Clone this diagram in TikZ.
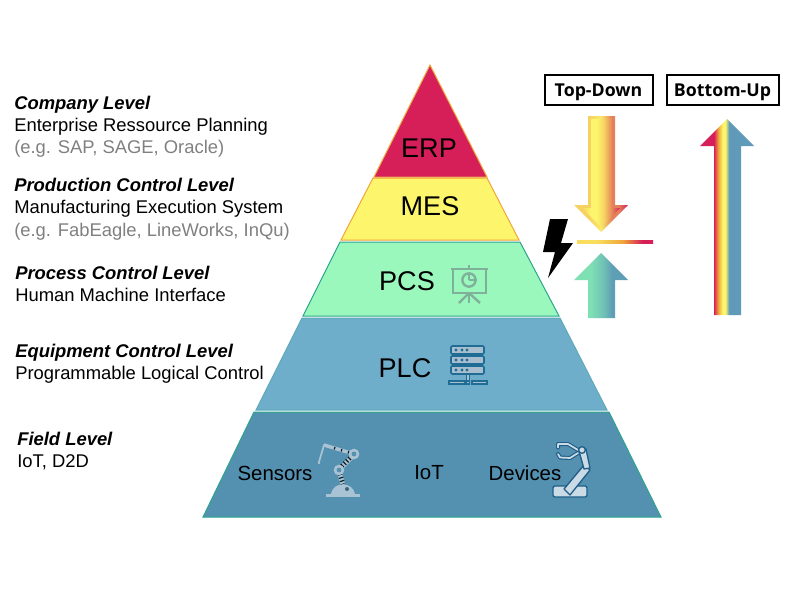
\documentclass[tikz,border=0pt]{standalone}
\usepackage{fontspec}
\setmainfont{Liberation Sans}
\newfontfamily\boxfont{Open Sans}
\definecolor{cErp}{HTML}{D61F58}
\definecolor{cMes}{HTML}{FDF66C}
\definecolor{cPcs}{HTML}{9BF8BD}
\definecolor{cPlc}{HTML}{6FAECB}
\definecolor{cFld}{HTML}{5490B0}
\definecolor{cGry}{HTML}{808080}
\definecolor{cOrg}{HTML}{EFA63A}
\definecolor{cTeal}{HTML}{2BA58C}
\definecolor{cIconA}{HTML}{7FB09A}
\definecolor{cIconB}{HTML}{1F6C94}
\definecolor{cIconC}{HTML}{A9BFD0}
\definecolor{cRobA}{HTML}{A9C3D4}
\definecolor{cRobB}{HTML}{CBDBE6}
\definecolor{cRobD}{HTML}{1F5F88}
\definecolor{cTdA}{HTML}{F6D262}
\definecolor{cTdB}{HTML}{E5805A}
\definecolor{cBuA}{HTML}{7FE0B4}
\definecolor{cBuB}{HTML}{5F9FB5}
\definecolor{cBig}{HTML}{5F9AB8}
% the bounding box of a shaded path covers 25bp to 75bp of the shading
\pgfdeclarehorizontalshading{tdShade}{100bp}{
 color(0bp)=(cTdA); color(39bp)=(cTdA); color(50bp)=(cMes!60!cTdA); color(60bp)=(cTdB); color(66bp)=(cTdB); color(75bp)=(cErp); color(100bp)=(cErp)}
\pgfdeclarehorizontalshading{tdShaft}{100bp}{
 color(0bp)=(cTdA); color(25bp)=(cTdA); color(37bp)=(cMes); color(44bp)=(cMes); color(54bp)=(cTdA); color(65bp)=(cTdB); color(75bp)=(cErp); color(100bp)=(cErp)}
\pgfdeclarehorizontalshading{lineShade}{100bp}{
 color(0bp)=(cMes!70!cOrg); color(38bp)=(cMes!70!cOrg); color(55bp)=(cOrg); color(68bp)=(cErp); color(100bp)=(cErp)}
\pgfdeclarehorizontalshading{buShade}{100bp}{
 color(0bp)=(cBuA); color(40bp)=(cBuA); color(52bp)=(cBuA!55!cBuB); color(60bp)=(cBuB); color(100bp)=(cBuB)}
\pgfdeclarehorizontalshading{bigShade}{100bp}{
 color(0bp)=(cErp); color(38bp)=(cErp); color(42bp)=(cOrg); color(46bp)=(cMes); color(48.5bp)=(cMes); color(52bp)=(cBig); color(100bp)=(cBig)}
\tikzset{
 x=0.75pt,y=-0.75pt,
 lvl/.style={draw=#1,line width=0.75pt,line join=miter},
 lbl/.style={font=\fontsize{20.3}{24}\selectfont,text=black,inner sep=0pt},
 smalllbl/.style={font=\fontsize{15.3}{18}\selectfont,text=black,inner sep=0pt},
 side/.style={align=left,anchor=north west,inner sep=0pt,font=\fontsize{13.8}{16.7}\selectfont,text=black},
 tag/.style={draw=black,line width=1.5pt,minimum height=22pt,inner sep=0pt,text height=9.5pt,text depth=0pt,font=\boxfont\bfseries\fontsize{13.3}{14}\selectfont,text=black},
 robA/.style={draw=cRobA,line width=1pt,line cap=round},
 stripes/.style={draw=black!80!cFld,line cap=butt,dash pattern=on 0.9pt off 1.6pt},
 robD/.style={draw=cRobD,line width=1pt,fill=cRobB,line join=round},
}
\begin{document}
\begin{tikzpicture}
\useasboundingbox (0,0) rectangle (790,600);
% pyramid
\fill[cErp,lvl=cOrg] (430,65) -- (487,177) -- (374,177) -- cycle;
\fill[cMes,lvl=cOrg] (373,178) -- (487,178) -- (519,240) -- (341,240) -- cycle;
\fill[cPcs,lvl=cTeal] (340,242) -- (520,242) -- (559,316) -- (303,316) -- cycle;
\fill[cPlc,lvl=cPlc!70!cTeal] (302,318) -- (560,318) -- (607,410) -- (256,410) -- cycle;
\fill[cFld,lvl=cTeal] (254,412) -- (609,412) -- (661,517) -- (203,517) -- cycle;
\node[lbl] (erp) at (429,148) {ERP};
\node[lbl] (mes) at (430,206) {MES};
\node[lbl] (pcs) at (407,281) {PCS};
\node[lbl] (plc) at (405,368) {PLC};
\node[smalllbl] (sensors) at (275,473) {Sensors};
\node[smalllbl] (iot) at (429,473) {IoT};
\node[smalllbl] (devices) at (525,473) {Devices};
% presentation icon
\begin{scope}[draw=cIconA,line width=1.8pt]
\draw (451,269) -- (488,269);
\draw (453,269) rectangle (486,293);
\draw (469,265) -- (469,269);
\draw (469,293) -- (459,303);
\draw (469,293) -- (480,303);
\draw (469,293) -- (469,303);
\draw (469,280) circle[radius=5pt];
\draw (469,280) -- (469,273);
\draw (469,280) -- (476,280);
\end{scope}
% server icon
\foreach \yy in {346,356,366}{
 \draw[fill=cIconC,draw=cIconB,line width=1.2pt,rounded corners=1pt] (451,\yy) rectangle (484,\yy+8);
 \foreach \xx in {456,462,467}{\fill[cIconB] (\xx,\yy+4) circle[radius=1.2pt];}
}
\draw[cIconB,line width=1.1pt,fill=cIconC] (466.5,374) rectangle (469.5,382);
\draw[cIconB,line width=1.1pt,fill=cIconC] (449,381) rectangle (465,384);
\draw[cIconB,line width=1.1pt,fill=cIconC] (472,381) rectangle (487,384);
\draw[cIconB,line width=1.1pt,fill=cIconC] (466.5,381) rectangle (469.5,384);
% robot arm (left)
\fill[cRobA] (326,494) rectangle (360,496.5);
\fill[cRobA] (331,494) .. controls (333,486) and (338,484.5) .. (343,484.5) .. controls (349,484.5) and (354,488) .. (355,494) -- cycle;
\fill[cFld!70!black] (347,489) circle[radius=1.5pt];
\draw[cRobA,line width=3.4pt] (339,471) -- (343,485);
\draw[stripes,line width=3.4pt] (340,474) -- (343,484);
\draw[cRobA,line width=3.4pt] (339,470) -- (354,455);
\draw[stripes,line width=3.4pt] (342,466) -- (350,458);
\draw[cRobA,line width=2.6pt] (354,454) -- (324,445);
\draw[stripes,line width=2pt,dash pattern=on 0.9pt off 4.5pt] (349,452.5) -- (329,446.5);
\fill[cRobA] (339,470) circle[radius=4pt];
\fill[cFld] (339,470) circle[radius=1.8pt];
\fill[cRobA] (354,454) circle[radius=4pt];
\fill[cFld] (354,454) circle[radius=1.8pt];
\draw[robA,line width=1.3pt] (324,445) -- (319,462);
\fill[cRobA] (319,463) circle[radius=1.1pt];
% robot gripper (right)
\draw[robD,rounded corners=1.5pt] (553,486) rectangle (587,497);
\draw[robD] (564,489) -- (570,495) -- (590,470) -- (584,465) -- cycle;
\draw[robD] (579,451) -- (586,449) -- (590,468) -- (584,469) -- cycle;
\draw[cRobD,line width=3pt,line join=round,line cap=round] (578,450) -- (568,444) -- (558,444) -- (558,447.5);
\draw[cRobB,line width=1.3pt,line join=round,line cap=round] (578,450) -- (568,444) -- (558,444) -- (558,447.5);
\draw[cRobD,line width=3pt,line join=round,line cap=round] (578,453) -- (570,458) -- (560,457.5) -- (558,454);
\draw[cRobB,line width=1.3pt,line join=round,line cap=round] (578,453) -- (570,458) -- (560,457.5) -- (558,454);
\draw[robD] (582,450) circle[radius=2.5pt];
% side text
\node[side] (t1) at (14,95.5) {\textbf{\textit{Company Level}}\\Enterprise Ressource Planning\\\textcolor{cGry}{(e.g. SAP, SAGE, Oracle)}};
\node[side] (t2) at (14,178) {\textbf{\textit{Production Control Level}}\\Manufacturing Execution System\\\textcolor{cGry}{(e.g. FabEagle, LineWorks, InQu)}};
\node[side] (t3) at (15,266) {\textbf{\textit{Process Control Level}}\\Human Machine Interface};
\node[side] (t4) at (15,344) {\textbf{\textit{Equipment Control Level}}\\Programmable Logical Control};
\node[side] (t5) at (17,432) {\textbf{\textit{Field Level}}\\IoT, D2D};
% tags
\node[tag,minimum width=81pt] (td) at (598.5,90) {Top-Down};
\node[tag,minimum width=84pt] (bu) at (722.5,90) {Bottom-Up};
% arrows
\shade[shading=tdShade] (588,116) -- (615,116) -- (615,205) -- (628,205) -- (601,232) -- (574,205) -- (588,205) -- cycle;
\shade[shading=tdShaft] (591,119) -- (612,119) -- (612,208) -- (620,208) -- (601,227) -- (582,208) -- (591,208) -- cycle;
\shade[shading=lineShade] (577,240) rectangle (653,243);
\shade[shading=buShade] (601,253) -- (628,280) -- (615,280) -- (615,318) -- (588,318) -- (588,280) -- (574,280) -- cycle;
\shade[shading=bigShade] (727,119) -- (754,146) -- (741,146) -- (741,315) -- (714,315) -- (714,146) -- (700,146) -- cycle;
% lightning
\fill[black] (550,219) -- (568,219) -- (561,243) -- (573,243) -- (548,278) -- (555,252) -- (543,252) -- cycle;
\end{tikzpicture}
\end{document}
